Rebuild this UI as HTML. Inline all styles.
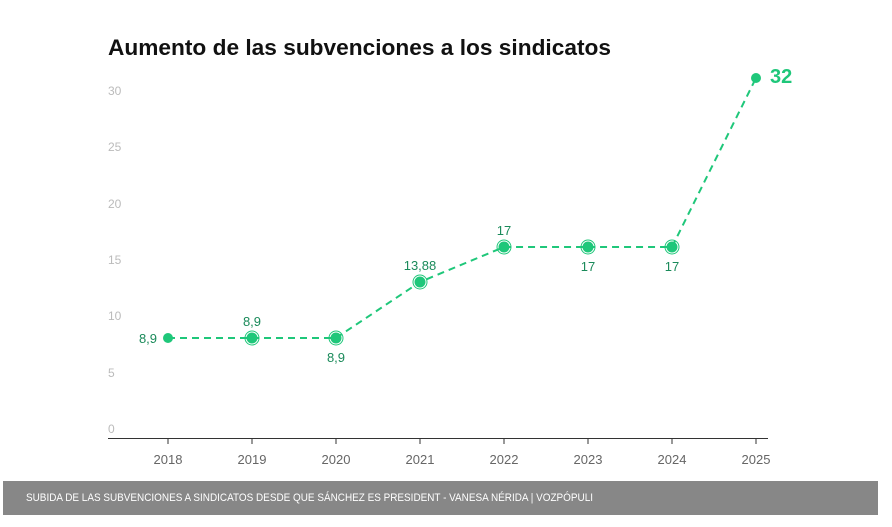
<!DOCTYPE html>
<html><head><meta charset="utf-8"><style>
body{margin:0;background:#fff;width:892px;height:527px;overflow:hidden;font-family:"Liberation Sans",sans-serif}
</style></head><body>
<svg width="892" height="527" xmlns="http://www.w3.org/2000/svg" style="position:absolute;left:0;top:0">
<text x="108" y="55" font-size="22" font-weight="bold" fill="#111" textLength="503" lengthAdjust="spacingAndGlyphs">Aumento de las subvenciones a los sindicatos</text>
<g font-size="12" fill="#bbb">
<text x="108" y="95">30</text><text x="108" y="151">25</text><text x="108" y="208">20</text>
<text x="108" y="264">15</text><text x="108" y="320">10</text><text x="108" y="377">5</text><text x="108" y="433">0</text>
</g>
<line x1="108" y1="438.5" x2="768" y2="438.5" stroke="#333" stroke-width="1"/>
<g stroke="#333"><line x1="168" y1="438" x2="168" y2="444"/><line x1="252" y1="438" x2="252" y2="444"/><line x1="336" y1="438" x2="336" y2="444"/><line x1="420" y1="438" x2="420" y2="444"/><line x1="504" y1="438" x2="504" y2="444"/><line x1="588" y1="438" x2="588" y2="444"/><line x1="672" y1="438" x2="672" y2="444"/><line x1="756" y1="438" x2="756" y2="444"/></g>
<g font-size="13" fill="#666" text-anchor="middle">
<text x="168" y="464">2018</text><text x="252" y="464">2019</text><text x="336" y="464">2020</text><text x="420" y="464">2021</text><text x="504" y="464">2022</text><text x="588" y="464">2023</text><text x="672" y="464">2024</text><text x="756" y="464">2025</text>
</g>
<polyline points="168,338 252,338 336,338 420,282 504,247 588,247 672,247 756,78" fill="none" stroke="#1fc77a" stroke-width="2" stroke-dasharray="7,5"/>
<g fill="#1fc77a">
<circle cx="168" cy="338" r="5"/>
<circle cx="756" cy="78" r="5"/>
</g>
<g fill="#1fc77a" stroke="#1fc77a">
<circle cx="252" cy="338" r="5"/><circle cx="252" cy="338" r="7" fill="none" stroke-width="1"/>
<circle cx="336" cy="338" r="5"/><circle cx="336" cy="338" r="7" fill="none" stroke-width="1"/>
<circle cx="420" cy="282" r="5"/><circle cx="420" cy="282" r="7" fill="none" stroke-width="1"/>
<circle cx="504" cy="247" r="5"/><circle cx="504" cy="247" r="7" fill="none" stroke-width="1"/>
<circle cx="588" cy="247" r="5"/><circle cx="588" cy="247" r="7" fill="none" stroke-width="1"/>
<circle cx="672" cy="247" r="5"/><circle cx="672" cy="247" r="7" fill="none" stroke-width="1"/>
</g>
<g font-size="13" fill="#1a8a5a" text-anchor="middle">
<text x="148" y="343">8,9</text>
<text x="252" y="326">8,9</text>
<text x="336" y="362">8,9</text>
<text x="420" y="270">13,88</text>
<text x="504" y="235">17</text>
<text x="588" y="271">17</text>
<text x="672" y="271">17</text>
</g>
<text x="770" y="83" font-size="20" font-weight="bold" fill="#1fc77a">32</text>
<rect x="3" y="481" width="875" height="34" fill="#878787"/>
<text x="26" y="501" font-size="11" fill="#fff" textLength="567" lengthAdjust="spacingAndGlyphs">SUBIDA DE LAS SUBVENCIONES A SINDICATOS DESDE QUE SÁNCHEZ ES PRESIDENT - VANESA NÉRIDA | VOZPÓPULI</text>
</svg>
</body></html>
